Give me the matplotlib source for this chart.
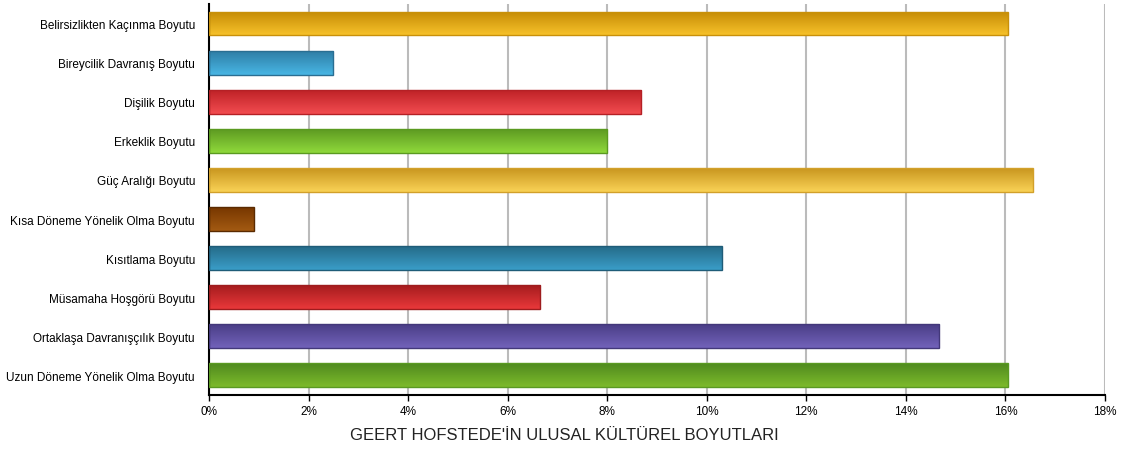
import matplotlib
matplotlib.use("Agg")
import matplotlib.pyplot as plt
import numpy as np
from matplotlib.colors import LinearSegmentedColormap

# Hofstede cultural dimensions (share, %)
dimensions = [
    "Belirsizlikten Kaçınma Boyutu",
    "Bireycilik Davranış Boyutu",
    "Dişilik Boyutu",
    "Erkeklik Boyutu",
    "Güç Aralığı Boyutu",
    "Kısa Döneme Yönelik Olma Boyutu",
    "Kısıtlama Boyutu",
    "Müsamaha Hoşgörü Boyutu",
    "Ortaklaşa Davranışçılık Boyutu",
    "Uzun Döneme Yönelik Olma Boyutu",
]
shares = [16.05, 2.5, 8.68, 8.0, 16.55, 0.9, 10.3, 6.66, 14.67, 16.05]

# gradient colours per bar: (top, bottom, edge)
top_colors = ["#C58B05", "#2F7EA6", "#BF2227", "#5E9A22", "#C9961F",
              "#773700", "#256B88", "#A51C1E", "#4A3E86", "#4F8A1F"]
bottom_colors = ["#F6C12A", "#48B6E4", "#F24C50", "#8FD93B", "#F9D256",
                 "#A35A12", "#3A9DC8", "#E9383A", "#7262BA", "#7DBA2B"]
edge_colors = ["#C8900A", "#2A6E92", "#B52025", "#5A9A20", "#D2A02A",
               "#5A2A00", "#1F5C78", "#9E1C1E", "#43387A", "#5A9A22"]

xticks = np.arange(0, 19, 2)

plt.rcParams['font.family'] = ['Liberation Sans', 'DejaVu Sans']

fig = plt.figure(figsize=(11.29, 4.52), dpi=100)
ax = fig.add_axes([0.1851, 0.124, 0.7936, 0.865])

y = np.arange(len(dimensions))
bars = ax.barh(y, shares, height=0.61, color="none",
               edgecolor=edge_colors, linewidth=1.0, zorder=3)

# fill each bar with a vertical gradient (dark on top) clipped to the bar
grad = np.linspace(0, 1, 64).reshape(-1, 1)
for bar, c_top, c_bot in zip(bars, top_colors, bottom_colors):
    x0, y0 = bar.get_x(), bar.get_y()
    w, h = bar.get_width(), bar.get_height()
    cmap = LinearSegmentedColormap.from_list("g", [c_top, c_bot])
    img = ax.imshow(grad, cmap=cmap, aspect="auto",
                    extent=(x0, x0 + w, y0, y0 + h), origin="lower",
                    zorder=2, interpolation="bicubic")
    img.set_clip_path(bar)

ax.set_ylim(len(dimensions) - 0.5, -0.5)
ax.set_xlim(0, 18)
ax.set_xticks(xticks)
ax.set_xticklabels([f"{v}%" for v in xticks], fontsize=8.5)
ax.set_yticks(y)
ax.set_yticklabels(dimensions, fontsize=8.5)
ax.tick_params(axis="y", length=0, pad=10)
ax.tick_params(axis="x", length=4, width=1, direction="out", pad=3)

ax.grid(axis="x", color="#BBBBBB", linewidth=1.5, zorder=1)
ax.set_axisbelow(True)
for side in ("top", "right"):
    ax.spines[side].set_visible(False)
ax.spines["left"].set_linewidth(1.5)
ax.spines["bottom"].set_linewidth(1.5)

fig.text(0.5, 0.027, "GEERT HOFSTEDE'İN ULUSAL KÜLTÜREL BOYUTLARI",
         ha="center", va="baseline", fontsize=12, color="#222222")

fig.savefig("out.png", dpi=100)
